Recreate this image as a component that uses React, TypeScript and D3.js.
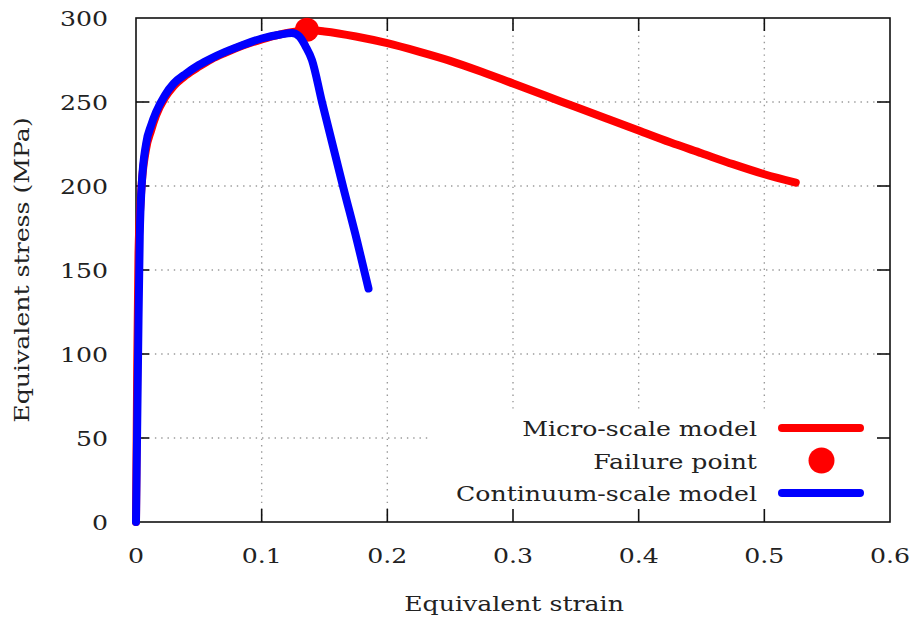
import React, { useEffect, useRef } from 'react';
import * as d3 from 'd3';

// strain / stress
const microStrain = [0, 0.001, 0.002, 0.004, 0.008, 0.012, 0.016, 0.023, 0.03, 0.04, 0.05, 0.06, 0.071, 0.085, 0.1, 0.115, 0.13, 0.136, 0.15, 0.175, 0.2, 0.225, 0.25, 0.275, 0.3, 0.325, 0.35, 0.375, 0.4, 0.425, 0.45, 0.475, 0.5, 0.525];
const microStress = [0, 95, 160, 195, 222, 233, 242, 252.5, 259.5, 266, 271, 275.5, 279.3, 283.6, 287.3, 290.3, 292.3, 293, 292, 289, 285, 280, 274.5, 268, 261, 254, 247, 240, 233, 226, 219.5, 213, 207, 202];

const contStrain = [0, 0.001, 0.002, 0.003, 0.0045, 0.008, 0.012, 0.016, 0.023, 0.03, 0.04, 0.05, 0.06, 0.071, 0.085, 0.1, 0.115, 0.124, 0.13, 0.135, 0.14, 0.148, 0.165, 0.176, 0.185];
const contStress = [0, 60, 120, 170, 200, 225, 236, 244, 254, 261, 267, 272, 276, 279.8, 284, 287.8, 290.2, 291, 289, 283, 275, 250, 199, 167, 139];

const failureStrain = [0.136];
const failureStress = [293];

const xTicks = [0, 0.1, 0.2, 0.3, 0.4, 0.5, 0.6];
const yTicks = [0, 50, 100, 150, 200, 250, 300];

const legendLabels = ['Micro-scale model', 'Failure point', 'Continuum-scale model'];

const FONT = 'DejaVu Serif, serif';
const WIDE = 1.26; // the original font is wider than DejaVu Serif

const App = () => {
  const svgRef = useRef<SVGSVGElement>(null);

  useEffect(() => {
    const width = 916;
    const height = 620;
    const left = 136;
    const right = 890;
    const top = 18;
    const bottom = 522;

    const svg = d3.select(svgRef.current).attr('width', width).attr('height', height);
    svg.selectAll('*').remove();

    const x = d3.scaleLinear().domain([0, 0.6]).range([left, right]);
    const y = d3.scaleLinear().domain([0, 300]).range([bottom, top]);

    const label = (g, tx: number, ty: number, anchor: string, txt: string, rot = 0) =>
      g.append('text')
        .attr('transform', `translate(${tx},${ty}) rotate(${rot}) scale(${WIDE},1)`)
        .attr('text-anchor', anchor)
        .attr('font-family', FONT)
        .attr('font-size', 20)
        .attr('fill', '#222')
        .text(txt);

    svg.append('rect').attr('width', width).attr('height', height).attr('fill', '#fff');

    // dotted grid
    const grid = svg.append('g').attr('stroke', '#9a9a9a').attr('stroke-width', 1.4).attr('stroke-dasharray', '1.4,4.9');
    xTicks.slice(1, -1).forEach((t) => {
      grid.append('line').attr('x1', x(t)).attr('x2', x(t)).attr('y1', bottom).attr('y2', top);
    });
    yTicks.slice(1, -1).forEach((t) => {
      grid.append('line').attr('x1', left).attr('x2', right).attr('y1', y(t)).attr('y2', y(t));
    });

    // legend background hides the grid
    svg.append('rect').attr('x', 432).attr('y', 413).attr('width', right - 432).attr('height', bottom - 413).attr('fill', '#fff');

    // frame and ticks on all four sides
    const axes = svg.append('g').attr('stroke', '#111').attr('stroke-width', 1.6);
    axes.append('rect').attr('x', left).attr('y', top).attr('width', right - left).attr('height', bottom - top).attr('fill', 'none');
    const tl = 13;
    xTicks.slice(1, -1).forEach((t) => {
      axes.append('line').attr('x1', x(t)).attr('x2', x(t)).attr('y1', bottom).attr('y2', bottom - tl);
      axes.append('line').attr('x1', x(t)).attr('x2', x(t)).attr('y1', top).attr('y2', top + tl);
    });
    yTicks.slice(1, -1).forEach((t) => {
      axes.append('line').attr('x1', left).attr('x2', left + tl).attr('y1', y(t)).attr('y2', y(t));
      axes.append('line').attr('x1', right).attr('x2', right - tl).attr('y1', y(t)).attr('y2', y(t));
    });

    // tick labels
    const tickG = svg.append('g');
    xTicks.forEach((t) => label(tickG, x(t), 563, 'middle', t === 0 ? '0' : d3.format('.1f')(t)));
    yTicks.forEach((t) => label(tickG, 108, y(t) + 8, 'end', String(t)));

    // axis titles
    label(svg, 514, 611, 'middle', 'Equivalent strain');
    label(svg, 29, 270, 'middle', 'Equivalent stress (MPa)', -90);

    const line = d3.line<[number, number]>()
      .x((d) => x(d[0]))
      .y((d) => y(d[1]))
      .curve(d3.curveMonotoneX);

    const micro = microStrain.map((s, i) => [s, microStress[i]] as [number, number]);
    const cont = contStrain.map((s, i) => [s, contStress[i]] as [number, number]);

    svg.append('path').datum(micro).attr('fill', 'none').attr('stroke', '#ff0000')
      .attr('stroke-width', 8).attr('stroke-linecap', 'round').attr('stroke-linejoin', 'round').attr('d', line);

    svg.append('g').selectAll('circle').data(failureStrain).join('circle')
      .attr('cx', (d) => x(d)).attr('cy', (d, i) => y(failureStress[i])).attr('r', 12).attr('fill', '#ff0000');

    svg.append('path').datum(cont).attr('fill', 'none').attr('stroke', '#0000ff')
      .attr('stroke-width', 8).attr('stroke-linecap', 'round').attr('stroke-linejoin', 'round').attr('d', line);

    // legend
    const rows = [428, 460.5, 493];
    const lg = svg.append('g');
    legendLabels.forEach((txt, i) => label(lg, 757, rows[i] + 8, 'end', txt));
    lg.append('line').attr('x1', 782).attr('x2', 860).attr('y1', rows[0]).attr('y2', rows[0])
      .attr('stroke', '#ff0000').attr('stroke-width', 8).attr('stroke-linecap', 'round');
    lg.append('circle').attr('cx', 821.5).attr('cy', rows[1]).attr('r', 13).attr('fill', '#ff0000');
    lg.append('line').attr('x1', 782).attr('x2', 860).attr('y1', rows[2]).attr('y2', rows[2])
      .attr('stroke', '#0000ff').attr('stroke-width', 8).attr('stroke-linecap', 'round');
  }, []);

  return <svg ref={svgRef} style={{ position: 'absolute', left: 0, top: 0, display: 'block' }}></svg>;
};

export default App;
